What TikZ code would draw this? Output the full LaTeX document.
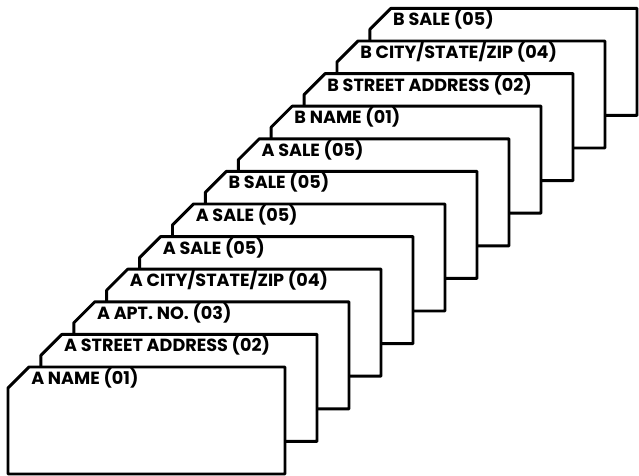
\documentclass[tikz,border=0pt]{standalone}
\usepackage{fontspec}
\newfontfamily\cardfont{Poppins}
\begin{document}
\begin{tikzpicture}[x=0.75pt,y=-0.75pt,
    card/.style={draw,fill=white,line width=2.2pt,line join=round},
    cardlabel/.style={anchor=base west,inner sep=0pt,
        font=\cardfont\bfseries\fontsize{13.2}{13.2}\selectfont}]
    \useasboundingbox (0,0) rectangle (639,475);

    % cards from back to front
    \foreach \i/\lbl in {11/{B SALE (05)},10/{B CITY/STATE/ZIP (04)},
        9/{B STREET ADDRESS (02)},8/{B NAME (01)},7/{A SALE (05)},
        6/{B SALE (05)},5/{A SALE (05)},4/{A SALE (05)},
        3/{A CITY/STATE/ZIP (04)},2/{A APT. NO. (03)},
        1/{A STREET ADDRESS (02)},0/{A NAME (01)}}{
        \pgfmathsetmacro\cl{8+32.9*\i}
        \pgfmathsetmacro\cr{285+32*\i}
        \pgfmathsetmacro\ct{367-32.6*\i}
        \pgfmathsetmacro\cb{\ct+107}
        \draw[card] (\cl,\ct+21) -- (\cl+21,\ct) -- (\cr,\ct)
            -- (\cr,\cb) -- (\cl,\cb) -- cycle;
        \node[cardlabel] (card\i) at (\cl+23,\ct+17.5) {\lbl};
    }
\end{tikzpicture}
\end{document}
